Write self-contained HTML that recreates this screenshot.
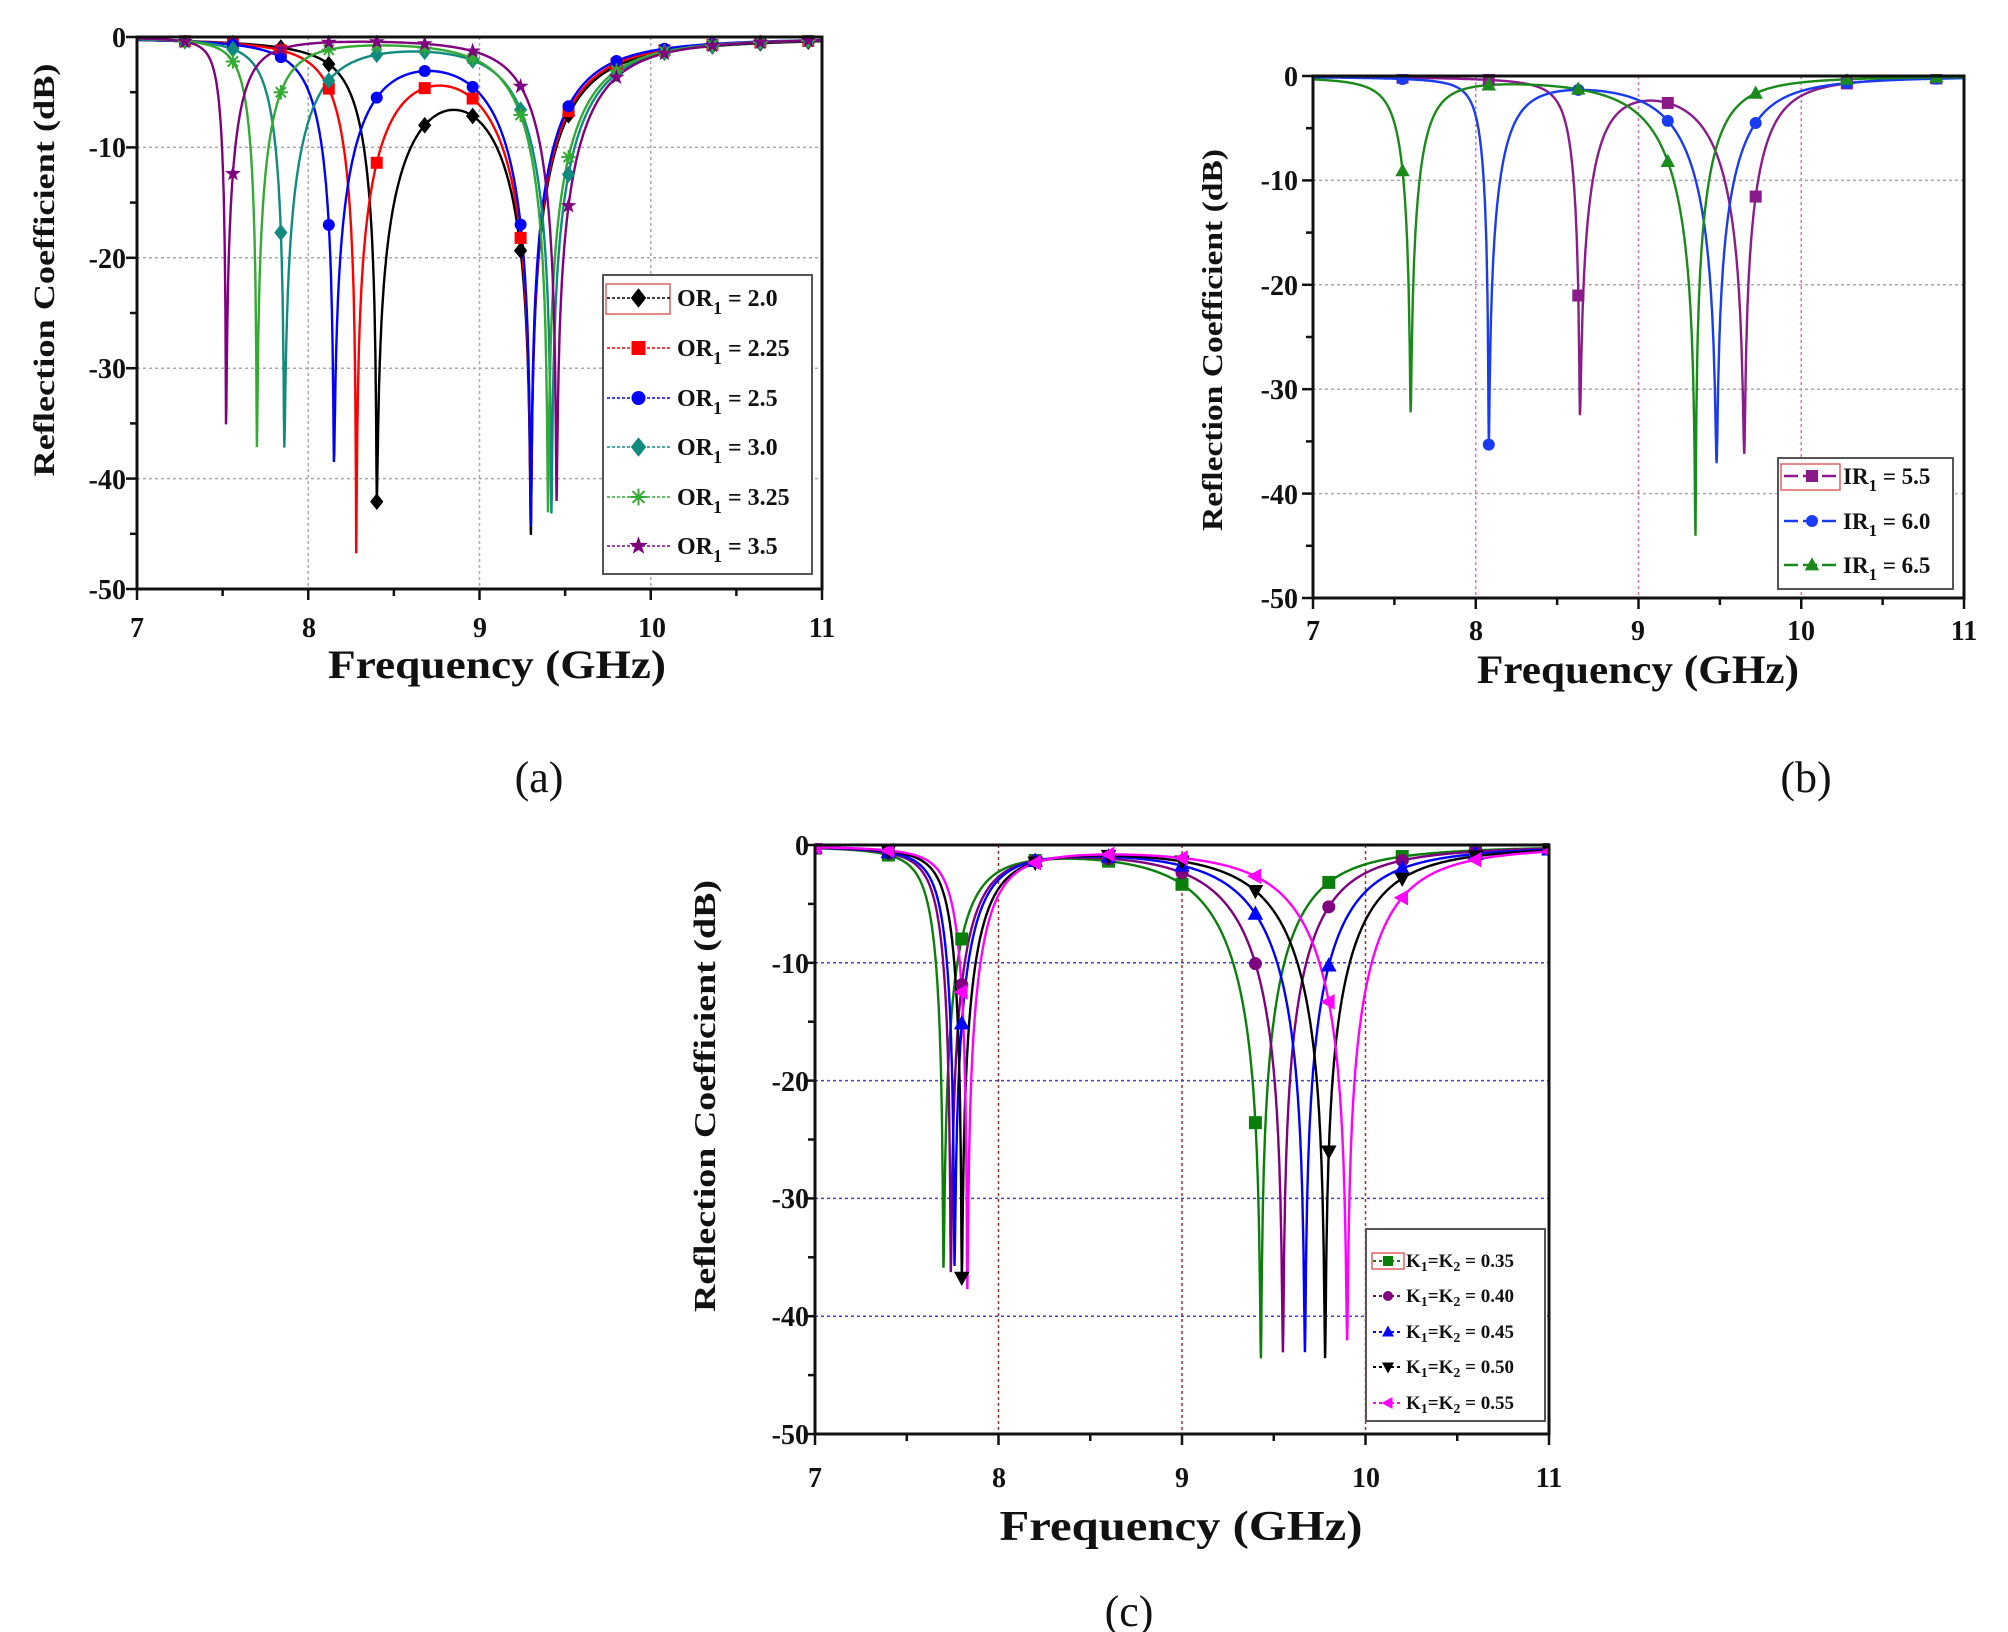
<!DOCTYPE html>
<html><head><meta charset="utf-8"><style>
html,body{margin:0;padding:0;background:#fff}
svg{display:block}
.t{font-family:"Liberation Serif",serif;font-weight:bold;fill:#111}
.tk{font-size:28px}
</style></head><body>
<svg id="s" width="2008" height="1632" viewBox="0 0 2008 1632" xmlns="http://www.w3.org/2000/svg">
<rect width="2008" height="1632" fill="#fff"/>
<g id="g"></g>
<g class="t tk" text-anchor="end">
<text x="126" y="47">0</text><text x="126" y="157">-10</text><text x="126" y="268">-20</text><text x="126" y="378">-30</text><text x="126" y="489">-40</text><text x="126" y="599">-50</text>
</g>
<g class="t tk" text-anchor="middle">
<text x="137" y="637">7</text><text x="309" y="637">8</text><text x="480" y="637">9</text><text x="652" y="637">10</text><text x="822" y="637">11</text>
</g>
<text class="t" x="497" y="678" text-anchor="middle" font-size="40" textLength="338" lengthAdjust="spacingAndGlyphs">Frequency (GHz)</text>
<text class="t" transform="translate(54,270) rotate(-90)" text-anchor="middle" font-size="30" textLength="413" lengthAdjust="spacingAndGlyphs">Reflection Coefficient (dB)</text>
<text x="539" y="792" text-anchor="middle" font-family="Liberation Serif,serif" font-size="44" fill="#111">(a)</text>
<g class="t tk" text-anchor="end">
<text x="1298" y="86">0</text><text x="1298" y="190">-10</text><text x="1298" y="295">-20</text><text x="1298" y="399">-30</text><text x="1298" y="504">-40</text><text x="1298" y="608">-50</text>
</g>
<g class="t tk" text-anchor="middle">
<text x="1313" y="640">7</text><text x="1476" y="640">8</text><text x="1638" y="640">9</text><text x="1801" y="640">10</text><text x="1964" y="640">11</text>
</g>
<text class="t" x="1638" y="683" text-anchor="middle" font-size="40" textLength="322" lengthAdjust="spacingAndGlyphs">Frequency (GHz)</text>
<text class="t" transform="translate(1222,340) rotate(-90)" text-anchor="middle" font-size="29" textLength="382" lengthAdjust="spacingAndGlyphs">Reflection Coefficient (dB)</text>
<text x="1806" y="792" text-anchor="middle" font-family="Liberation Serif,serif" font-size="44" fill="#111">(b)</text>
<g class="t tk" text-anchor="end">
<text x="809" y="855">0</text><text x="809" y="973">-10</text><text x="809" y="1091">-20</text><text x="809" y="1208">-30</text><text x="809" y="1326">-40</text><text x="809" y="1444">-50</text>
</g>
<g class="t tk" text-anchor="middle">
<text x="815" y="1487">7</text><text x="999" y="1487">8</text><text x="1182" y="1487">9</text><text x="1366" y="1487">10</text><text x="1549" y="1487">11</text>
</g>
<text class="t" x="1181" y="1540" text-anchor="middle" font-size="42" textLength="363" lengthAdjust="spacingAndGlyphs">Frequency (GHz)</text>
<text class="t" transform="translate(715,1096) rotate(-90)" text-anchor="middle" font-size="31" textLength="432" lengthAdjust="spacingAndGlyphs">Reflection Coefficient (dB)</text>
<text x="1129" y="1626" text-anchor="middle" font-family="Liberation Serif,serif" font-size="44" fill="#111">(c)</text>

<rect x="603" y="275" width="209" height="299" fill="#fff" stroke="#555" stroke-width="2"/>
<rect x="606" y="284" width="64" height="30" fill="none" stroke="#e06060" stroke-width="1.5"/>
<g class="t" font-size="24">
<text x="677" y="306">OR<tspan font-size="18" dy="8">1</tspan><tspan dy="-8"> = 2.0</tspan></text>
<text x="677" y="356">OR<tspan font-size="18" dy="8">1</tspan><tspan dy="-8"> = 2.25</tspan></text>
<text x="677" y="406">OR<tspan font-size="18" dy="8">1</tspan><tspan dy="-8"> = 2.5</tspan></text>
<text x="677" y="455">OR<tspan font-size="18" dy="8">1</tspan><tspan dy="-8"> = 3.0</tspan></text>
<text x="677" y="505">OR<tspan font-size="18" dy="8">1</tspan><tspan dy="-8"> = 3.25</tspan></text>
<text x="677" y="554">OR<tspan font-size="18" dy="8">1</tspan><tspan dy="-8"> = 3.5</tspan></text>
</g>
<rect x="1778" y="458" width="175" height="131" fill="#fff" stroke="#555" stroke-width="2"/>
<rect x="1781" y="464" width="59" height="26" fill="none" stroke="#e06060" stroke-width="1.5"/>
<g class="t" font-size="23">
<text x="1843" y="484">IR<tspan font-size="17" dy="7">1</tspan><tspan dy="-7"> = 5.5</tspan></text>
<text x="1843" y="529">IR<tspan font-size="17" dy="7">1</tspan><tspan dy="-7"> = 6.0</tspan></text>
<text x="1843" y="573">IR<tspan font-size="17" dy="7">1</tspan><tspan dy="-7"> = 6.5</tspan></text>
</g>
<rect x="1366" y="1229" width="179" height="192" fill="#fff" stroke="#555" stroke-width="2"/>
<rect x="1372" y="1253" width="32" height="16" fill="none" stroke="#e06060" stroke-width="1.5"/>
<g class="t" font-size="19">
<text x="1406" y="1267">K<tspan font-size="14" dy="4">1</tspan><tspan dy="-4">=K</tspan><tspan font-size="14" dy="4">2</tspan><tspan dy="-4"> = 0.35</tspan></text>
<text x="1406" y="1302">K<tspan font-size="14" dy="4">1</tspan><tspan dy="-4">=K</tspan><tspan font-size="14" dy="4">2</tspan><tspan dy="-4"> = 0.40</tspan></text>
<text x="1406" y="1338">K<tspan font-size="14" dy="4">1</tspan><tspan dy="-4">=K</tspan><tspan font-size="14" dy="4">2</tspan><tspan dy="-4"> = 0.45</tspan></text>
<text x="1406" y="1373">K<tspan font-size="14" dy="4">1</tspan><tspan dy="-4">=K</tspan><tspan font-size="14" dy="4">2</tspan><tspan dy="-4"> = 0.50</tspan></text>
<text x="1406" y="1409">K<tspan font-size="14" dy="4">1</tspan><tspan dy="-4">=K</tspan><tspan font-size="14" dy="4">2</tspan><tspan dy="-4"> = 0.55</tspan></text>
</g>
<g id="lg"></g>
</svg>
<script>
const NS="http://www.w3.org/2000/svg";
const G=document.getElementById('g'), LG=document.getElementById('lg');
function el(tag,attrs,parent){const e=document.createElementNS(NS,tag);for(const k in attrs)e.setAttribute(k,attrs[k]);(parent||G).appendChild(e);return e;}
function db(f,dips){let p=1;for(const [f0,D,wl,wr] of dips){const a=1-Math.pow(10,D/10);const w=f<f0?wl:wr;p*=1-a/(1+((f-f0)/w)**2);}return 10*Math.log10(Math.max(p,1e-6));}
function marker(t,x,y,c,s,parent){
  const P=parent||G;
  if(t==='sq')el('rect',{x:x-s,y:y-s,width:2*s,height:2*s,fill:c},P);
  else if(t==='ci')el('circle',{cx:x,cy:y,r:s,fill:c},P);
  else if(t==='di')el('polygon',{points:`${x},${y-s*1.4} ${x+s*1.1},${y} ${x},${y+s*1.4} ${x-s*1.1},${y}`,fill:c},P);
  else if(t==='tu')el('polygon',{points:`${x},${y-s*1.3} ${x+s*1.2},${y+s*0.9} ${x-s*1.2},${y+s*0.9}`,fill:c},P);
  else if(t==='td')el('polygon',{points:`${x},${y+s*1.3} ${x+s*1.2},${y-s*0.9} ${x-s*1.2},${y-s*0.9}`,fill:c},P);
  else if(t==='tl')el('polygon',{points:`${x-s*1.3},${y} ${x+s*0.9},${y-s*1.2} ${x+s*0.9},${y+s*1.2}`,fill:c},P);
  else if(t==='as'){for(let k=0;k<4;k++){const a=k*Math.PI/4;el('line',{x1:x-s*1.2*Math.cos(a),y1:y-s*1.2*Math.sin(a),x2:x+s*1.2*Math.cos(a),y2:y+s*1.2*Math.sin(a),stroke:c,'stroke-width':2},P);}}
  else if(t==='st'){let pts=[];for(let k=0;k<10;k++){const r=k%2?s*0.55:s*1.4;const a=-Math.PI/2+k*Math.PI/5;pts.push((x+r*Math.cos(a)).toFixed(1)+','+(y+r*Math.sin(a)).toFixed(1));}el('polygon',{points:pts.join(' '),fill:c},P);}
}
function panel(P){
  const X=f=>P.x0+(f-7)/4*(P.x1-P.x0), Y=d=>P.y0+(-d)/50*(P.y1-P.y0);
  const id='c'+P.x0;
  const cp=el('clipPath',{id:id});el('rect',{x:P.x0,y:P.y0-2,width:P.x1-P.x0,height:P.y1-P.y0+2},cp);
  for(const f of [8,9,10])el('line',{x1:X(f),x2:X(f),y1:P.y0,y2:P.y1,stroke:P.gv,'stroke-width':1.5,'stroke-dasharray':'3,3'});
  for(const d of [-10,-20,-30,-40])el('line',{x1:P.x0,x2:P.x1,y1:Y(d),y2:Y(d),stroke:P.gh,'stroke-width':1.5,'stroke-dasharray':'3,3'});
  const grp=el('g',{'clip-path':`url(#${id})`});
  for(const c of P.curves){
    let fs=[];for(let f=7;f<=11.0001;f+=0.002)fs.push(f);
    for(const d of c.dips)fs.push(d[0]);fs.sort((a,b)=>a-b);
    let s='';fs.forEach((f,i)=>{s+=(i?'L':'M')+X(f).toFixed(1)+' '+Y(db(f,c.dips)).toFixed(1);});
    el('path',{d:s,fill:'none',stroke:c.col,'stroke-width':P.lw||2.4},grp);
  }
  for(const c of P.curves){for(const f of P.mk){marker(c.m,X(f),Y(db(f,c.dips)),c.col,P.ms,grp);}}
  el('rect',{x:P.x0,y:P.y0,width:P.x1-P.x0,height:P.y1-P.y0,fill:'none',stroke:'#111','stroke-width':3});
  for(let f=7;f<=11.001;f+=0.5){const maj=Math.abs(f-Math.round(f))<1e-6;el('line',{x1:X(f),x2:X(f),y1:P.y1,y2:P.y1+(maj?11:7),stroke:'#111','stroke-width':2.5});}
  for(let d=0;d>=-50;d-=5){const maj=d%10===0;el('line',{x1:P.x0,x2:P.x0-(maj?11:7),y1:Y(d),y2:Y(d),stroke:'#111','stroke-width':2.5});}
  P.curves.forEach((c,i)=>{const y=P.leg.y[i];el('line',{x1:P.leg.x1,x2:P.leg.x2,y1:y,y2:y,stroke:c.col,'stroke-width':P.leg.lw,'stroke-dasharray':P.leg.da},LG);marker(c.m,(P.leg.x1+P.leg.x2)/2,y,c.col,P.leg.ms,LG);});
}
const ak=[];for(let f=7.28;f<11;f+=0.28)ak.push(f);
panel({x0:137,x1:822,y0:37,y1:589,gv:'#aaa',gh:'#aaa',ms:6,mk:ak,
 leg:{x1:607,x2:670,y:[298,348,398,447,497,546],lw:1.5,da:'3,2',ms:7},
 curves:[
  {col:'#000',m:'di',dips:[[8.40,-41,0.2,0.48],[9.30,-44,0.48,0.4]]},
  {col:'#ff0000',m:'sq',dips:[[8.28,-46,0.2,0.38],[9.30,-43,0.45,0.4]]},
  {col:'#0000ff',m:'ci',dips:[[8.15,-38,0.2,0.35],[9.30,-44,0.4,0.38]]},
  {col:'#118a80',m:'di',dips:[[7.86,-37,0.15,0.3],[9.42,-43,0.33,0.4]]},
  {col:'#33aa33',m:'as',dips:[[7.70,-37,0.11,0.2],[9.40,-43,0.32,0.4]]},
  {col:'#800080',m:'st',dips:[[7.52,-35,0.07,0.16],[9.45,-42,0.28,0.4]]}
 ]});
panel({x0:1313,x1:1964,y0:76,y1:598,gv:'#e070c0',gh:'#aaa',ms:6,mk:[7.55,8.08,8.63,9.18,9.72,10.28,10.83],
 leg:{x1:1784,x2:1840,y:[476,521,565],lw:2.4,da:'14,5',ms:6},
 curves:[
  {col:'#8b1a8b',m:'sq',dips:[[8.64,-32,0.11,0.22],[9.65,-36,0.35,0.25]]},
  {col:'#1a3cf0',m:'ci',dips:[[8.08,-35,0.09,0.2],[9.48,-37,0.38,0.32]]},
  {col:'#1a8a1a',m:'tu',dips:[[7.60,-32,0.13,0.16],[9.35,-44,0.4,0.25]]}
 ]});
const ck=[];for(let f=7;f<=11.001;f+=0.4)ck.push(f);
panel({x0:815,x1:1549,y0:845,y1:1434,gv:'#a03030',gh:'#4040e0',ms:6.5,mk:ck,
 leg:{x1:1373,x2:1403,y:[1261,1296,1332,1367,1403],lw:2,da:'3,3',ms:5},
 curves:[
  {col:'#0a800a',m:'sq',dips:[[7.70,-35.5,0.12,0.22],[9.43,-43.5,0.45,0.38]]},
  {col:'#800080',m:'ci',dips:[[7.74,-36,0.12,0.22],[9.55,-43,0.45,0.38]]},
  {col:'#0000ff',m:'tu',dips:[[7.76,-35.5,0.12,0.22],[9.67,-43,0.45,0.4]]},
  {col:'#000',m:'td',dips:[[7.80,-36.5,0.12,0.22],[9.78,-43.5,0.45,0.4]]},
  {col:'#ff00ff',m:'tl',dips:[[7.83,-37.5,0.12,0.21],[9.90,-42,0.45,0.4]]}
 ]});
</script>
</body></html>
